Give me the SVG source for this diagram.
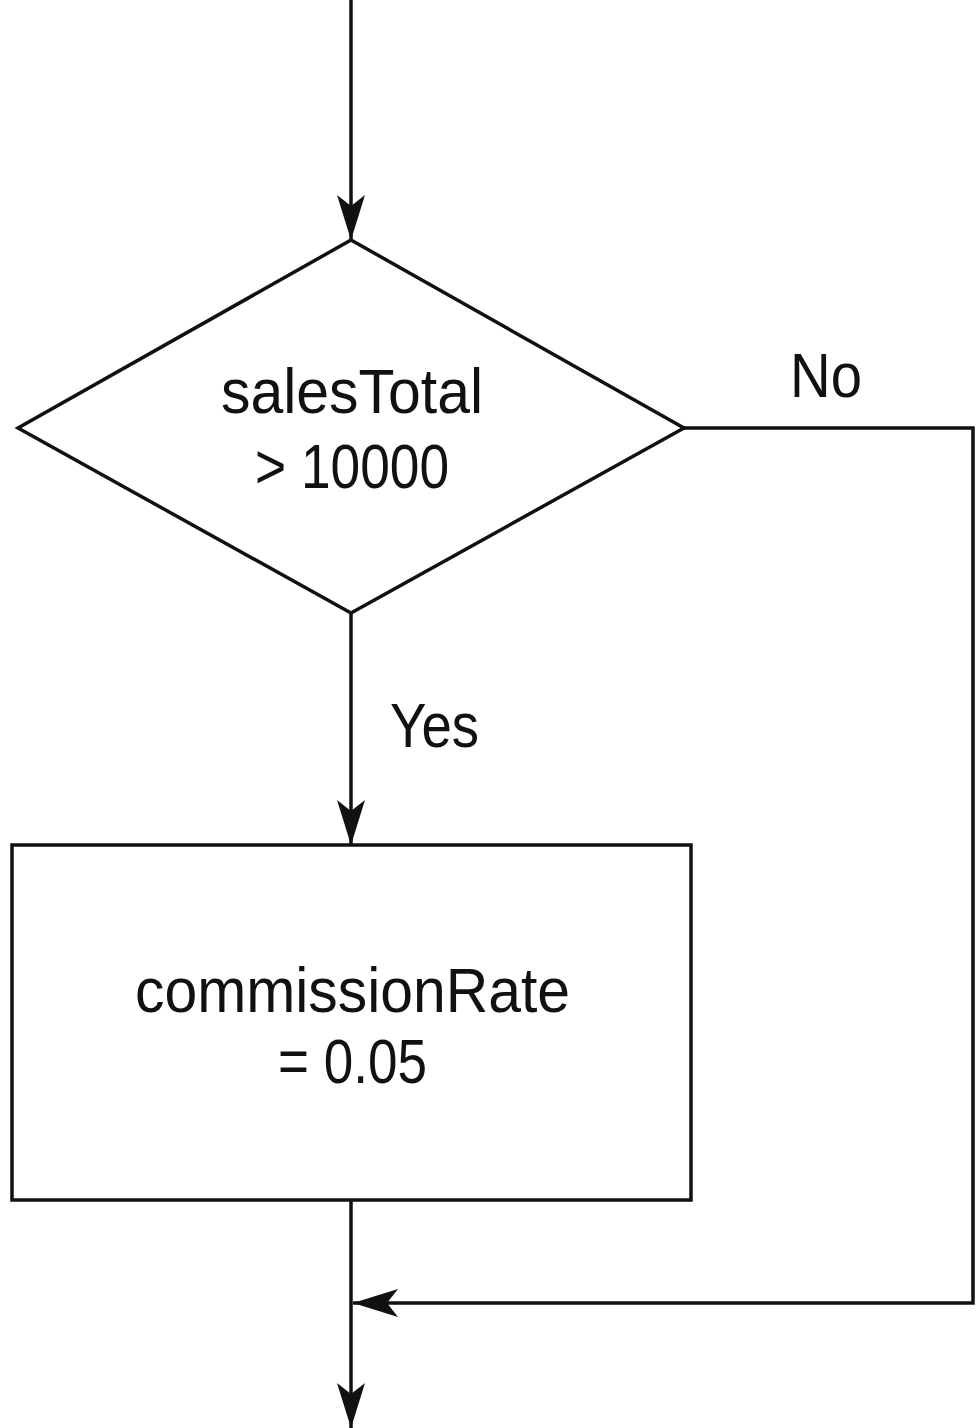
<svg xmlns="http://www.w3.org/2000/svg" width="976" height="1428" viewBox="0 0 976 1428">
  <style>
    .shape { fill: none; stroke: #111; stroke-width: 3.5; }
    .edge { fill: none; stroke: #111; stroke-width: 3.5; }
    .label { font-family: "Liberation Sans Narrow", "Liberation Sans", Arial, sans-serif; font-size: 63px; fill: #111; }
  </style>
  <defs>
    <marker id="arrow" markerUnits="userSpaceOnUse" markerWidth="50" markerHeight="32" viewBox="-46 -16 50 32" refX="0" refY="0" orient="auto">
      <path d="M0,0 L-45,-14 L-34,0 L-45,14 Z" fill="#111"/>
    </marker>
  </defs>
  <rect width="976" height="1428" fill="#ffffff"/>

  <g id="connectors">
    <line class="edge" x1="351" y1="0" x2="351" y2="240" marker-end="url(#arrow)"/>
    <line class="edge" x1="351" y1="613" x2="351" y2="845" marker-end="url(#arrow)"/>
    <polyline class="edge" points="684,428 973,428 973,1303 353,1303" marker-end="url(#arrow)"/>
    <line class="edge" x1="351" y1="1200" x2="351" y2="1428" marker-end="url(#arrow)"/>
    <text class="label" x="790" y="397" textLength="72" lengthAdjust="spacingAndGlyphs">No</text>
    <text class="label" x="390" y="747" textLength="89" lengthAdjust="spacingAndGlyphs">Yes</text>
  </g>

  <g id="decision">
    <polygon class="shape" points="351,240 684,428 351,613 18,428"/>
    <text class="label" x="221" y="413" textLength="262" lengthAdjust="spacingAndGlyphs">salesTotal</text>
    <text class="label" x="255" y="488" textLength="194" lengthAdjust="spacingAndGlyphs">&gt; 10000</text>
  </g>

  <g id="assign">
    <rect class="shape" x="12" y="845" width="679" height="355"/>
    <text class="label" x="135" y="1012" textLength="435" lengthAdjust="spacingAndGlyphs">commissionRate</text>
    <text class="label" x="278" y="1083" textLength="149" lengthAdjust="spacingAndGlyphs">= 0.05</text>
  </g>
</svg>
